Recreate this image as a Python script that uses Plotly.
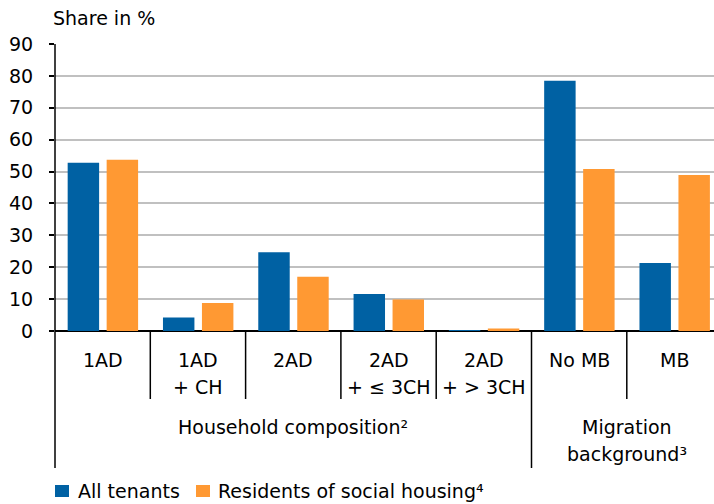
import plotly.graph_objects as go

# Data
categories = ["1AD", "1AD<br>+ CH", "2AD", "2AD<br>+ ≤ 3CH", "2AD<br>+ > 3CH", "No MB", "MB"]
all_tenants = [52.8, 4.2, 24.7, 11.6, 0.3, 78.5, 21.3]
social_housing = [53.7, 8.8, 17.0, 9.9, 0.8, 50.8, 48.9]
series_names = ["All tenants", "Residents of social housing⁴"]
group_labels = ["Household composition²", "Migration<br>background³"]
y_ticks = [0, 10, 20, 30, 40, 50, 60, 70, 80, 90]

BLUE = "#0061A3"
ORANGE = "#FF9933"
FONT = "DejaVu Sans"
FS = 19

W, H = 714, 504
ML, MT = 55, 44
PLOT_BOTTOM = 331
MB_ = H - PLOT_BOTTOM
PH = PLOT_BOTTOM - MT
PW = W - ML

def py(p):
    """pixel row -> paper y"""
    return (PLOT_BOTTOM - p) / PH

def px(p):
    """pixel column -> paper x"""
    return (p - ML) / PW

x_pos = list(range(len(categories)))
x_max = -0.5 + PW / 95.3

fig = go.Figure()
fig.add_trace(go.Bar(x=x_pos, y=all_tenants, name=series_names[0], width=0.33, offset=-0.367,
                     marker=dict(color=BLUE, line=dict(width=0)), showlegend=False))
fig.add_trace(go.Bar(x=x_pos, y=social_housing, name=series_names[1], width=0.33, offset=0.042,
                     marker=dict(color=ORANGE, line=dict(width=0)), showlegend=False))

shapes = []
annotations = []

# axis line extended below the plot into the category area
shapes.append(dict(type="line", xref="paper", yref="paper", x0=0, x1=0, y0=1, y1=py(468),
                   line=dict(color="black", width=1.5)))
# category separators (the one between the two groups runs further down)
for b in [0.5, 1.5, 2.5, 3.5, 4.5, 5.5]:
    bottom = 468 if b == 4.5 else 399
    shapes.append(dict(type="line", xref="x", yref="paper", x0=b, x1=b, y0=0, y1=py(bottom),
                       line=dict(color="black", width=1.5)))

# category labels (one annotation per line)
for i, c in enumerate(categories):
    for j, line in enumerate(c.split("<br>")):
        annotations.append(dict(x=i, y=py(360 + 27 * j), xref="x", yref="paper", text=line,
                                showarrow=False, xanchor="center", yanchor="middle",
                                font=dict(family=FONT, size=FS, color="black")))

# group labels
annotations.append(dict(x=2, y=py(427), xref="x", yref="paper", text=group_labels[0],
                        showarrow=False, xanchor="center", yanchor="middle",
                        font=dict(family=FONT, size=FS, color="black")))
for j, line in enumerate(group_labels[1].split("<br>")):
    annotations.append(dict(x=5.5, y=py(427 + 27 * j), xref="x", yref="paper", text=line,
                            showarrow=False, xanchor="center", yanchor="middle",
                            font=dict(family=FONT, size=FS, color="black")))

# axis title
annotations.append(dict(x=px(51), y=py(18), xref="paper", yref="paper", text="Share in %",
                        showarrow=False, xanchor="left", yanchor="middle",
                        font=dict(family=FONT, size=FS, color="black")))

# legend
leg_y = 491
for sx, tx, color, name in [(55, 76, BLUE, series_names[0]), (196, 216, ORANGE, series_names[1])]:
    shapes.append(dict(type="rect", xref="paper", yref="paper", x0=px(sx), x1=px(sx + 14),
                       y0=py(leg_y - 6), y1=py(leg_y + 6), fillcolor=color, line=dict(width=0)))
    annotations.append(dict(x=px(tx), y=py(leg_y), xref="paper", yref="paper", text=name,
                            showarrow=False, xanchor="left", yanchor="middle",
                            font=dict(family=FONT, size=FS, color="black")))

fig.update_layout(
    width=W, height=H,
    margin=dict(l=ML, r=0, t=MT, b=MB_, pad=0),
    plot_bgcolor="white", paper_bgcolor="white",
    shapes=shapes, annotations=annotations,
    showlegend=False,
    xaxis=dict(range=[-0.5, x_max], showticklabels=False, showgrid=False, zeroline=False,
               showline=False, ticks="", fixedrange=True),
    yaxis=dict(range=[0, 90], tickvals=y_ticks, showgrid=True, gridcolor="#C0C0C0", gridwidth=1.5,
               zeroline=True, zerolinecolor="black", zerolinewidth=1.5,
               showline=False, ticks="outside", ticklen=5, tickwidth=1.5, tickcolor="black",
               ticklabelstandoff=12,
               tickfont=dict(family=FONT, size=FS, color="black"), fixedrange=True),
)

fig.write_html("out.html")
